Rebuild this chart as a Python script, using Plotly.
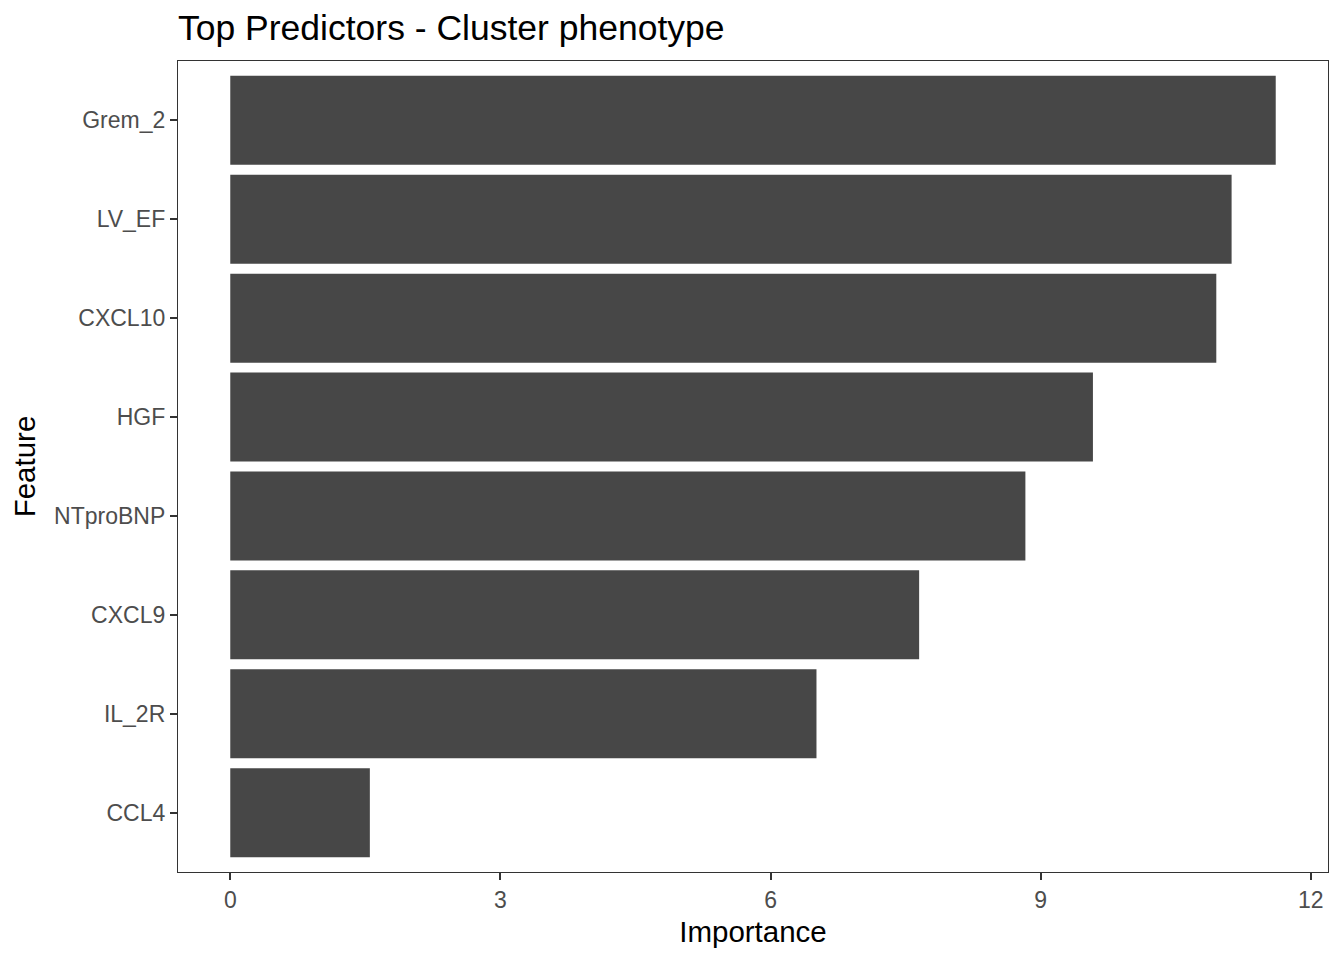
import plotly.graph_objects as go

features = ["CCL4", "IL_2R", "CXCL9", "NTproBNP", "HGF", "CXCL10", "LV_EF", "Grem_2"]
importance = [1.55, 6.51, 7.65, 8.83, 9.58, 10.95, 11.12, 11.61]
x_ticks = [0, 3, 6, 9, 12]

fig = go.Figure(go.Bar(
    x=importance, y=features, orientation="h",
    marker=dict(color="#474747", line=dict(width=0)),
    width=0.9,
))

xmax = max(importance)
pad = xmax * 0.05

W, H = 1336, 952  # page body has an 8px margin
fig.update_layout(
    width=W, height=H,
    paper_bgcolor="white", plot_bgcolor="white",
    margin=dict(l=170, r=16, t=53, b=88),
    font=dict(family="Liberation Sans, Arial, sans-serif"),
    title=dict(text="Top Predictors - Cluster phenotype", x=170/W, xanchor="left",
               y=1 - 20/H, yanchor="middle", font=dict(size=35.5, color="black")),
    showlegend=False,
    xaxis=dict(
        range=[-pad, xmax + pad],
        tickvals=x_ticks, ticktext=[str(t) for t in x_ticks],
        ticks="outside", ticklen=7, tickwidth=1.6, tickcolor="#333333",
        tickfont=dict(size=23, color="#4D4D4D"),
        showgrid=False, zeroline=False,
        showline=True, linecolor="#333333", linewidth=1.3, mirror=True,
        title=dict(text="Importance", font=dict(size=29.5, color="black"), standoff=9),
    ),
    yaxis=dict(
        range=[-0.6, len(features) - 0.4],
        ticks="outside", ticklen=7, tickwidth=1.6, tickcolor="#333333",
        tickfont=dict(size=23, color="#4D4D4D"),
        showgrid=False, zeroline=False,
        showline=True, linecolor="#333333", linewidth=1.3, mirror=True,
        title=dict(text="Feature", font=dict(size=29.5, color="black"), standoff=12),
    ),
)

fig.write_html("out.html")
